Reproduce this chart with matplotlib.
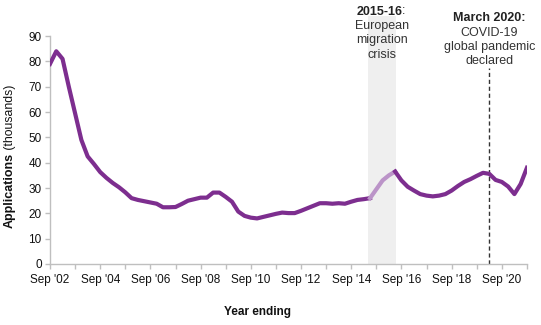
import matplotlib
matplotlib.use("Agg")
import matplotlib.pyplot as plt
import numpy as np

plt.rcParams['font.family'] = ['Liberation Sans', 'DejaVu Sans']

# Quarterly, year ending Sep 2002 .. Sep 2021 (thousands)
applications = [
    79, 84, 81, 70, 59.5, 49, 42.5, 39.5,          # Sep02..Jun04
    36.3, 34, 32, 30.3, 28.3, 26, 25.3, 24.8,      # Sep04..Jun06
    24.3, 23.8, 22.4, 22.4, 22.5, 23.7, 25, 25.6,  # Sep06..Jun08
    26.2, 26.2, 28.2, 28.2, 26.5, 24.6, 20.7, 19,  # Sep08..Jun10
    18.3, 18, 18.6, 19.2, 19.8, 20.3, 20.1, 20.1,  # Sep10..Jun12
    21, 22, 23, 24, 24, 23.8, 24, 23.8,            # Sep12..Jun14
    24.6, 25.3, 25.6, 26, 29.5, 33, 35, 36.5,      # Sep14..Jun16
    33, 30.5, 29, 27.6, 27, 26.7, 27, 27.6,        # Sep16..Jun18
    29, 30.8, 32.4, 33.5, 34.8, 36, 35.6, 33.2,    # Sep18..Jun20
    32.4, 30.6, 27.6, 31.6, 38,                    # Sep20..Sep21
]
tick_labels = ["Sep '02", "Sep '04", "Sep '06", "Sep '08", "Sep '10",
               "Sep '12", "Sep '14", "Sep '16", "Sep '18", "Sep '20"]
crisis_start, crisis_end = 50.7, 55.1     # quarter index of shaded period
covid_index = 70                          # Mar 2020
light_range = (51, 55)                    # highlighted segment

x = np.arange(len(applications))
y = np.array(applications)

dark = '#7D2E8F'
light = '#BB94C8'

fig = plt.figure(figsize=(5.41, 3.25), dpi=100)
ax = fig.add_axes([0.0924, 0.1877, 0.8816, 0.7013])

ax.axvspan(crisis_start, crisis_end, ymin=0, ymax=98.0 / 90, color='#EFEFEF',
           zorder=0, clip_on=False, lw=0)

a, b = light_range
ax.plot(x[:a + 1], y[:a + 1], color=dark, lw=3.0, solid_joinstyle='round', zorder=3)
ax.plot(x[a:b + 1], y[a:b + 1], color=light, lw=3.0, solid_joinstyle='round', zorder=3)
ax.plot(x[b:], y[b:], color=dark, lw=3.0, solid_joinstyle='round', zorder=3)

ax.plot([covid_index, covid_index], [0, 77.5], color='#333333', lw=1.0,
        ls=(0, (3, 2)), zorder=2, clip_on=False)

ax.set_xlim(0, len(applications) - 1)
ax.set_ylim(0, 90)
ax.set_yticks(np.arange(0, 91, 10))
ax.set_xticks(np.arange(0, len(applications), 8))
ax.set_xticklabels(tick_labels)
ax.set_xticks(np.arange(4, len(applications), 8), minor=True)

for s in ['top', 'right']:
    ax.spines[s].set_visible(False)
for s in ['left', 'bottom']:
    ax.spines[s].set_color('#BFBFBF')
    ax.spines[s].set_linewidth(1.0)
ax.tick_params(axis='both', which='both', color='#BFBFBF', length=3.5, width=1.0,
               labelsize=8.5, labelcolor='#111111', pad=2.5)
ax.tick_params(axis='x', pad=3.5)

# Axis labels
t1 = fig.text(10 / 541, 1 - 228 / 325, 'Applications', rotation=90, fontsize=9,
              fontweight='bold', ha='center', va='bottom', color='#111111')
ax.annotate(' (thousands)', xy=(0.5, 1), xycoords=t1, rotation=90, fontsize=8.8,
            ha='center', va='bottom', color='#111111')
fig.text(258 / 541, 1 - 312 / 325, 'Year ending', fontsize=8.5, fontweight='bold',
         ha='center', va='center', color='#111111')

# Annotations
cx = (crisis_start + crisis_end) / 2
t2 = ax.text(cx - 0.35, 99.4, '2015-16', fontsize=9, fontweight='bold',
             ha='center', va='center', color='#222222')
ax.annotate(':', xy=(1.0, 0.0), xycoords=t2, xytext=(-0.6, 0.6),
            textcoords='offset points', fontsize=9, ha='left', va='bottom',
            color='#222222')
ax.text(cx, 88.3, 'European\nmigration\ncrisis', fontsize=9, ha='center',
        va='center', color='#333333', linespacing=1.25)

ax.text(covid_index, 97.2, 'March 2020:', fontsize=9, fontweight='bold',
        ha='center', va='center', color='#222222')
ax.text(covid_index, 85.6, 'COVID-19\nglobal pandemic\ndeclared', fontsize=9,
        ha='center', va='center', color='#333333', linespacing=1.25)

fig.savefig('out.png', dpi=100)
